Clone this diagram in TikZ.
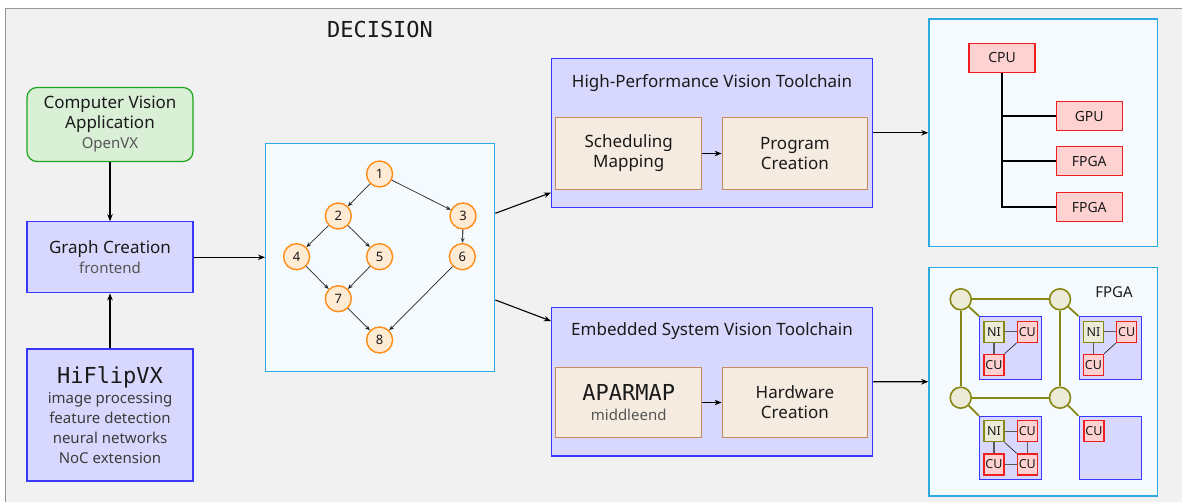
\documentclass[tikz,border=0pt]{standalone}
\usepackage{fontspec}
\setmainfont{Noto Sans}
\setmonofont{DejaVu Sans Mono}
\usetikzlibrary{arrows.meta,calc}

\definecolor{framebg}{RGB}{241,241,241}
\definecolor{framedraw}{RGB}{150,150,150}
\definecolor{txt}{RGB}{26,26,26}
\definecolor{subtxt}{RGB}{85,85,85}
\definecolor{listtxt}{RGB}{60,60,60}
\definecolor{appfill}{RGB}{217,240,215}
\definecolor{appdraw}{RGB}{30,165,30}
\definecolor{lavfill}{RGB}{216,216,255}
\definecolor{lavdraw}{RGB}{55,55,255}
\definecolor{begfill}{RGB}{245,235,224}
\definecolor{begdraw}{RGB}{200,140,90}
\definecolor{skyfill}{RGB}{245,250,255}
\definecolor{skydraw}{RGB}{45,170,225}
\definecolor{orfill}{RGB}{255,234,212}
\definecolor{ordraw}{RGB}{255,140,20}
\definecolor{redfill}{RGB}{255,210,210}
\definecolor{reddraw}{RGB}{240,30,30}
\definecolor{olfill}{RGB}{235,235,215}
\definecolor{oldraw}{RGB}{135,135,20}

\newcommand{\lblfont}{\fontsize{17}{20}\selectfont}
\newcommand{\subfont}{\fontsize{15}{20}\selectfont\color{subtxt}}
\newcommand{\listfont}{\fontsize{15}{20}\selectfont\color{listtxt}}
\newcommand{\monofont}{\fontsize{22}{26}\selectfont\ttfamily}

\tikzset{
  box/.style={draw, inner sep=0pt, align=center, line width=1.2pt, text=txt, font=\lblfont},
  appbox/.style={box, fill=appfill, draw=appdraw, rounded corners=10pt},
  lavbox/.style={box, fill=lavfill, draw=lavdraw},
  begbox/.style={box, fill=begfill, draw=begdraw},
  skybox/.style={box, fill=skyfill, draw=skydraw, line width=1.4pt},
  gnode/.style={circle, draw=ordraw, fill=orfill, line width=1.4pt, minimum size=26pt,
                inner sep=0pt, font=\fontsize{13}{15}\selectfont, text=txt},
  hwbox/.style={draw=reddraw, fill=redfill, line width=1.3pt, minimum width=66pt,
                minimum height=29pt, inner sep=0pt, font=\fontsize{14}{16}\selectfont, text=txt},
  tile/.style={draw=lavdraw, fill=lavfill, line width=1.3pt, minimum width=62pt,
               minimum height=63pt, inner sep=0pt},
  cu/.style={draw=reddraw, fill=redfill, line width=1.2pt, minimum width=20pt,
             minimum height=21pt, inner sep=0pt, font=\fontsize{12.5}{14}\selectfont, text=txt},
  ni/.style={cu, draw=oldraw, fill=olfill},
  router/.style={circle, draw=oldraw, fill=olfill, line width=1.6pt, minimum size=21pt, inner sep=0pt},
  olink/.style={draw=oldraw, line width=1.8pt},
  ilink/.style={draw=black!65, line width=1.2pt},
  dlink/.style={draw=black!85, line width=0.7pt},
  conn/.style={draw=black, line width=1.1pt, -{Stealth[length=7pt,width=5.5pt]}},
  gedge/.style={draw=black!85, line width=0.7pt, -{Stealth[length=5pt,width=4pt]}},
}

\begin{document}
\begin{tikzpicture}[x=1pt,y=-1pt]
\useasboundingbox (0,0) rectangle (1182,502);
\clip (0,0) rectangle (1182,502);
\fill[white] (0,0) rectangle (1182,502);
\draw[draw=framedraw, fill=framebg, line width=1.2pt] (5.5,8.5) rectangle (1200,520);

% heading
\node[font=\monofont, text=txt] (title) at (380,29) {DECISION};

% frontend column
\node[appbox, minimum width=166pt, minimum height=74pt] (app) at (110,124.5)
  {Computer Vision\\Application\\\subfont OpenVX};
\node[lavbox, minimum width=166pt, minimum height=71pt] (gc) at (110,257.3)
  {Graph Creation\\\subfont frontend};
\node[lavbox, minimum width=166pt, minimum height=132pt] (hf) at (110,415)
  {{\monofont HiFlipVX}\\\listfont image processing\\\listfont feature detection\\\listfont neural networks\\\listfont NoC extension};

\draw[conn] (app.south) -- (gc.north);
\draw[conn] (hf.north) -- (gc.south);

% task graph
\node[skybox, minimum width=229pt, minimum height=228pt] (gbox) at (380.2,257.3) {};
\node[gnode] (n1) at (379.6,174) {1};
\node[gnode] (n2) at (338.3,216) {2};
\node[gnode] (n3) at (463,216) {3};
\node[gnode] (n4) at (296.6,256.7) {4};
\node[gnode] (n5) at (379.6,256.7) {5};
\node[gnode] (n6) at (462.3,256.7) {6};
\node[gnode] (n7) at (338.3,298.7) {7};
\node[gnode] (n8) at (379.6,340) {8};
\foreach \a/\b in {n1/n2,n1/n3,n2/n4,n2/n5,n4/n7,n5/n7,n6/n8,n7/n8}
  \draw[gedge] (\a) -- (\b);
\draw[gedge, draw=black!70, line width=1.1pt] (n3) -- (n6);

\draw[conn] (gc.east) -- (gbox.west);

% toolchains
\node[lavbox, minimum width=321pt, minimum height=149pt] (hp) at (712,132.8) {};
\node[font=\lblfont, text=txt] (hpt) at (712,82.7) {High-Performance Vision Toolchain};
\node[begbox, minimum width=146pt, minimum height=71.6pt] (sched) at (628.7,153.5)
  {Scheduling\\Mapping};
\node[begbox, minimum width=145.4pt, minimum height=71.6pt] (prog) at (794.9,153.5)
  {Program\\Creation};
\draw[conn] (sched.east) -- (prog.west);

\node[lavbox, minimum width=321pt, minimum height=148.5pt] (emb) at (712,381.8) {};
\node[font=\lblfont, text=txt] (embt) at (712,331) {Embedded System Vision Toolchain};
\node[begbox, minimum width=146pt, minimum height=70.4pt] (apar) at (628.7,402.5)
  {{\monofont APARMAP}\\\subfont middleend};
\node[begbox, minimum width=145.4pt, minimum height=70.4pt] (hwc) at (794.9,402.5)
  {Hardware\\Creation};
\draw[conn] (apar.east) -- (hwc.west);

\draw[conn] ([yshift=44pt]gbox.east) -- ([yshift=-59.9pt]hp.west);
\draw[conn] ([yshift=-42.7pt]gbox.east) -- ([yshift=60.8pt]emb.west);

% heterogeneous platform
\node[skybox, minimum width=228.5pt, minimum height=227.7pt] (plat) at (1043.2,132.8) {};
\node[hwbox] (cpu) at (1002.1,58) {CPU};
\node[hwbox] (gpu) at (1089.2,116.2) {GPU};
\node[hwbox] (fa) at (1089.2,161.3) {FPGA};
\node[hwbox] (fb) at (1089.2,207.3) {FPGA};
\draw[line width=1.6pt] (cpu.south) |- (gpu.west);
\draw[line width=1.6pt] (cpu.south) |- (fa.west);
\draw[line width=1.6pt] (cpu.south) |- (fb.west);

\draw[conn] (hp.east) -- (plat.west);

% network-on-chip platform
\node[skybox, minimum width=228.5pt, minimum height=228.7pt] (noc) at (1043.2,381.7) {};
\node[font=\fontsize{15}{17}\selectfont, text=txt] (fpgat) at (1114,291.7) {FPGA};

\node[tile] (t1) at (1010.7,348.3) {};
\node[tile] (t2) at (1110.2,348.3) {};
\node[tile] (t3) at (1010.7,448) {};
\node[tile] (t4) at (1110.2,448) {};

\node[router] (r1) at (960.7,299.3) {};
\node[router] (r2) at (1060,299.3) {};
\node[router] (r3) at (960.7,397.7) {};
\node[router] (r4) at (1060,397.7) {};
\draw[olink] (r1) -- (r2);
\draw[olink] (r1) -- (r3);
\draw[olink] (r2) -- (r4);
\draw[olink] (r3) -- (r4);
\draw[olink] (r1) -- (t1.north west);
\draw[olink] (r2) -- (t2.north west);
\draw[olink] (r3) -- (t3.north west);
\draw[olink] (r4) -- (t4.north west);

% tile 1
\node[ni] (ni1) at (994,331.7) {NI};
\node[cu] (cua1) at (1027.3,331.7) {CU};
\node[cu] (cub1) at (994,364.8) {CU};
\draw[ilink] (ni1) -- (cua1);
\draw[ilink] (ni1) -- (cub1);
\draw[dlink] (cua1.south west) -- (cub1.north east);
% tile 2
\node[ni] (ni2) at (1093.5,331.7) {NI};
\node[cu] (cua2) at (1126.7,331.7) {CU};
\node[cu] (cub2) at (1093.5,364.8) {CU};
\draw[ilink] (ni2) -- (cua2);
\draw[ilink] (ni2) -- (cub2);
\draw[dlink] (cua2.south west) -- (cub2.north east);
% tile 3
\node[ni] (ni3) at (994,431.3) {NI};
\node[cu] (cua3) at (1027.3,431.3) {CU};
\node[cu] (cub3) at (994,464.5) {CU};
\node[cu] (cuc3) at (1027.3,464.5) {CU};
\draw[ilink] (ni3) -- (cua3);
\draw[ilink] (ni3) -- (cub3);
\draw[ilink] (cua3) -- (cuc3);
\draw[ilink] (cub3) -- (cuc3);
\draw[dlink] (ni3.south east) -- (cuc3.north west);
% tile 4
\node[cu] (cua4) at (1094,431.3) {CU};

\draw[conn] (emb.east) -- (noc.west);
\end{tikzpicture}
\end{document}
